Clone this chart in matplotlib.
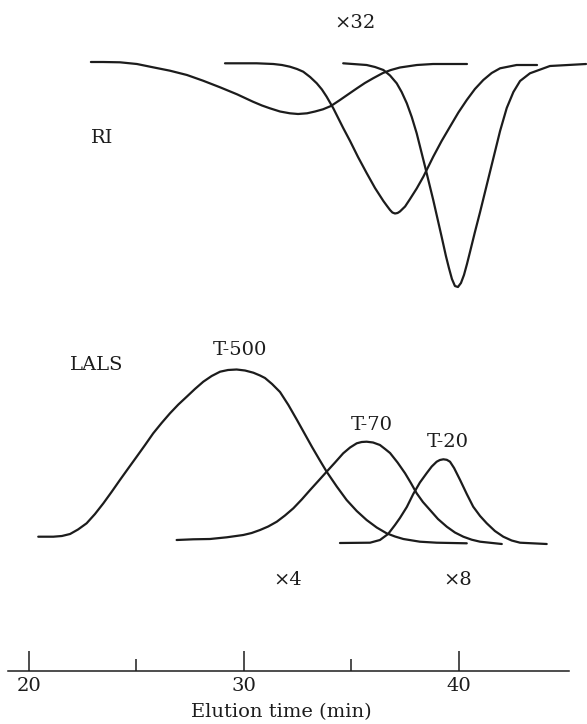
import numpy as np
import matplotlib.pyplot as plt

plt.rcParams['font.family'] = ['DejaVu Serif']

# RI traces: negative deflection from the RI baseline, elution time in min
ri_base = 608
ri_t500_t = [22.89, 23.45, 24.24, 25.03, 25.78, 26.57, 27.36, 28.11, 28.90, 29.69, 30.43, 30.85,
             31.22, 31.69, 32.15, 32.53, 32.95, 33.32, 33.69, 34.06, 34.48, 34.85, 35.27, 35.64,
             36.02, 36.48, 36.85, 37.27, 38.06, 38.81, 40.39]
ri_t500_y = [1, 1, 0.7, -1, -4.3, -7.7, -12, -17.7, -24.3, -31.3, -38.7, -42.5,
             -45.3, -48.5, -50.3, -51, -50.3, -48.5, -46.3, -43, -37, -31.5, -25.3, -20,
             -15.3, -10, -7, -4.5, -2, -1, -1]

ri_t70_t = [29.13, 29.83, 30.60, 31.38, 31.78, 32.15, 32.48, 32.77, 33.09, 33.40, 33.64, 33.86,
            34.17, 34.63, 34.95, 35.32, 35.72, 36.11, 36.50, 36.67, 36.81, 36.92, 37.04, 37.16,
            37.27, 37.51, 37.74, 38.05, 38.36, 38.82, 39.21, 39.60, 39.99, 40.38, 40.76, 41.15,
            41.54, 41.93, 42.70, 43.65]
ri_t70_y = [-0.3, -0.3, -0.3, -1, -2, -3.7, -6, -8.7, -14, -20.3, -26.5, -33.7,
            -45.3, -65, -78, -94, -110, -125, -138, -143, -147, -149.5, -150.5, -150,
            -148.5, -143.5, -136, -125.5, -113.7, -93.7, -78, -63.7, -49.5, -37, -26, -17,
            -10, -5.3, -2, -2]

ri_t20_t = [34.63, 35.72, 36.11, 36.50, 36.81, 37.12, 37.35, 37.59, 37.82, 38.05, 38.44, 38.82,
            39.21, 39.41, 39.55, 39.69, 39.83, 39.97, 40.11, 40.25, 40.39, 40.53, 40.76, 41.00,
            41.31, 41.62, 41.93, 42.24, 42.55, 42.86, 43.32, 44.25, 45.93]
ri_t20_y = [-0.3, -2, -4, -7, -12.5, -20.3, -29, -40.3, -54, -70.3, -103.7, -137,
            -173.7, -193, -205, -216, -223, -224, -220, -212, -201, -189, -169, -149,
            -122, -95, -68, -45, -29, -18, -10.3, -3, -1]

# LALS traces: signal above the LALS baseline
lals_base = 131
lals_t500_t = [20.44, 21.14, 21.54, 21.92, 22.29, 22.69, 23.08, 23.47, 23.86, 24.24, 24.63, 25.02,
               25.41, 25.79, 26.18, 26.57, 26.96, 27.35, 27.73, 28.12, 28.51, 28.90, 29.27, 29.67,
               30.06, 30.45, 30.76, 30.99, 31.32, 31.69, 32.08, 32.48, 32.83, 33.18, 33.52, 33.86,
               34.33, 34.79, 35.26, 35.72, 36.19, 36.65, 37.04, 37.43, 38.20, 38.98, 40.38]
lals_t500_y = [3.3, 3.3, 4, 6, 10.5, 16.7, 26, 36.7, 48.3, 60, 71.7, 83.3,
               95, 106.7, 117, 126.7, 135.5, 143.3, 151, 158.3, 164, 168.3, 170, 170.5,
               169.5, 167.3, 164.5, 162, 156, 148, 135, 120, 106.5, 93, 80.5, 68.3,
               53.5, 40, 29, 20, 12.5, 6.7, 3.5, 1, -1.7, -2.7, -3.3]

lals_t70_t = [26.88, 27.65, 28.43, 29.21, 29.98, 30.37, 30.76, 31.14, 31.54, 31.92, 32.31, 32.70,
              33.09, 33.47, 33.86, 34.25, 34.63, 34.95, 35.26, 35.49, 35.72, 36.02, 36.34, 36.58,
              36.81, 37.16, 37.51, 37.78, 38.05, 38.34, 38.67, 39.04, 39.45, 39.83, 40.22, 40.61,
              41.00, 42.01]
lals_t70_y = [0, 0.7, 1, 2.7, 5, 7, 10, 13.5, 18.3, 24.5, 31.7, 40.5,
              50, 59, 68.3, 77.5, 86.7, 92.5, 96.7, 98, 98.3, 97.5, 95, 91,
              87, 77.5, 66.7, 57, 46.7, 38, 30, 21, 13.3, 7.5, 3.3, 0.3,
              -1.7, -4]

lals_t20_t = [34.48, 35.88, 36.34, 36.72, 37.04, 37.27, 37.59, 37.89, 38.20, 38.52, 38.75, 38.98,
              39.13, 39.29, 39.45, 39.60, 39.79, 40.07, 40.38, 40.68, 41.00, 41.31, 41.69, 42.08,
              42.47, 42.86, 44.10]
lals_t20_y = [-3, -2.7, 0, 6, 15, 22, 33, 46, 57.5, 67, 73.5, 78.3,
              80, 80.7, 80.2, 78.3, 72, 60, 46, 33.3, 24, 16.7, 9, 3.3,
              -0.5, -2.7, -4]

major_ticks = [20, 30, 40]
minor_ticks = [25, 35]

ink = '#1c1c1c'

fig = plt.figure(figsize=(5.87, 7.24), dpi=100)
ax = fig.add_axes([0, 0.0732, 1, 0.9268])

for t, y in [(ri_t500_t, ri_t500_y), (ri_t70_t, ri_t70_y), (ri_t20_t, ri_t20_y)]:
    ax.plot(t, ri_base + np.array(y), color=ink, lw=1.6,
            solid_capstyle='round', solid_joinstyle='round')
for t, y in [(lals_t500_t, lals_t500_y), (lals_t70_t, lals_t70_y), (lals_t20_t, lals_t20_y)]:
    ax.plot(t, lals_base + np.array(y), color=ink, lw=1.6,
            solid_capstyle='round', solid_joinstyle='round')

fs = 14
ax.text(35.18, 648, '×32', ha='center', va='center', fontsize=fs, color=ink)
ax.text(23.41, 533, 'RI', ha='center', va='center', fontsize=fs, color=ink)
ax.text(23.15, 306, 'LALS', ha='center', va='center', fontsize=fs, color=ink)
ax.text(29.83, 321, 'T-500', ha='center', va='center', fontsize=fs, color=ink)
ax.text(35.96, 246, 'T-70', ha='center', va='center', fontsize=fs, color=ink)
ax.text(39.51, 229, 'T-20', ha='center', va='center', fontsize=fs, color=ink)
ax.text(32.06, 91, '×4', ha='center', va='center', fontsize=fs, color=ink)
ax.text(39.97, 91, '×8', ha='center', va='center', fontsize=fs, color=ink)

ax.set_xlim(18.66, 45.975)
ax.set_ylim(0, 671)

for side in ['top', 'right', 'left']:
    ax.spines[side].set_visible(False)
ax.spines['bottom'].set_bounds(19.03, 45.14)
ax.spines['bottom'].set_linewidth(1.1)
ax.spines['bottom'].set_color(ink)

ax.set_yticks([])
ax.set_xticks(major_ticks)
ax.set_xticks(minor_ticks, minor=True)
ax.tick_params(axis='x', which='major', direction='in', length=14.5, width=1.1,
               pad=4, labelsize=fs, colors=ink)
ax.tick_params(axis='x', which='minor', direction='in', length=8.6, width=1.1, colors=ink)
ax.set_xlabel('Elution time (min)', fontsize=fs, color=ink)
ax.xaxis.label.set_va('center')
ax.xaxis.set_label_coords(0.479, -0.061)

fig.savefig('out.png', dpi=100)
